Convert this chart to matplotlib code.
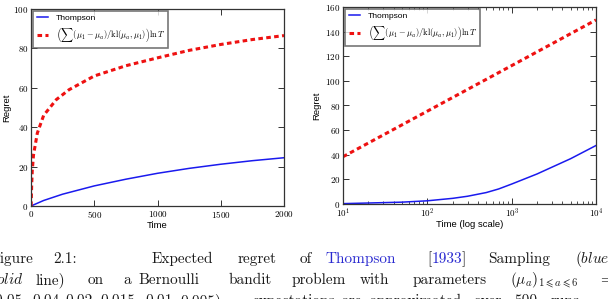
import matplotlib
matplotlib.use("Agg")
import matplotlib.pyplot as plt
from matplotlib.ticker import FuncFormatter, LogLocator, NullFormatter
import numpy as np

plt.rcParams['mathtext.fontset'] = 'cm'
plt.rcParams['font.family'] = ['Liberation Sans', 'DejaVu Sans']

# values
time_lin = [0, 100, 250, 500, 750, 1000, 1250, 1500, 1750, 2000]
thompson_lin = [0, 2.8, 6.0, 10.2, 13.6, 16.6, 19.1, 21.2, 23.0, 24.5]

bound_time_lin = [1, 5, 10, 20, 50, 100, 200, 300, 500, 750, 1000, 1250, 1500, 1750, 2000]
bound_lin = [0, 10, 18, 26, 37, 46, 54, 59, 66, 71.2, 75.2, 79, 82, 84.5, 86.5]

time_log = [10, 20, 50, 100, 200, 300, 500, 700, 1000, 2000, 5000, 10000]
thompson_log = [0.3, 0.8, 1.5, 2.6, 4.6, 6.3, 9.3, 12.2, 16.2, 24.4, 36.8, 47.5]

bound_time_log = [10, 100, 1000, 10000]
bound_log = [38.4, 75.4, 112.4, 149.5]

lin_xticks = [0, 500, 1000, 1500, 2000]
lin_yticks = [0, 20, 40, 60, 80, 100]
log_yticks = [0, 20, 40, 60, 80, 100, 120, 140, 160]

bound_label = r'$\left(\sum(\mu_1-\mu_a)/\mathrm{kl}(\mu_a,\mu_1)\right)\ln T$'

W, H = 608, 299
fig = plt.figure(figsize=(W / 100, H / 100), dpi=100)
ax1 = fig.add_axes([31 / W, 1 - 206 / H, 253 / W, 197 / H])
ax2 = fig.add_axes([343 / W, 1 - 204 / H, 253 / W, 197 / H])

num_fmt = FuncFormatter(lambda v, p: f'${v:g}$')
pow_fmt = FuncFormatter(lambda v, p: f'$10^{{{int(round(np.log10(v)))}}}$')

ax1.plot(time_lin, thompson_lin, color='#1a1aee', lw=1.1, label='Thompson')
ax1.plot(bound_time_lin, bound_lin, color='#ee1111', lw=2.2,
         linestyle=(0, (1.5, 1.1)), label=bound_label)
ax1.set_xlim(0, 2000)
ax1.set_ylim(0, 100)
ax1.set_xticks(lin_xticks)
ax1.set_yticks(lin_yticks)
ax1.xaxis.set_major_formatter(num_fmt)
ax1.yaxis.set_major_formatter(num_fmt)
ax1.set_xlabel('Time', fontsize=6.8)
ax1.set_ylabel('Regret', fontsize=6.8)
ax1.xaxis.set_label_coords(0.5, -0.076)
ax1.yaxis.set_label_coords(-0.079, 0.5)

ax2.plot(time_log, thompson_log, color='#1a1aee', lw=1.1, label='Thompson')
ax2.plot(bound_time_log, bound_log, color='#ee1111', lw=2.2,
         linestyle=(0, (1.5, 1.1)), label=bound_label)
ax2.set_xscale('log')
ax2.set_xlim(10, 10000)
ax2.set_ylim(0, 160)
ax2.set_yticks(log_yticks)
ax2.xaxis.set_major_locator(LogLocator(base=10))
ax2.xaxis.set_minor_locator(LogLocator(base=10, subs=np.arange(2, 10)))
ax2.xaxis.set_major_formatter(pow_fmt)
ax2.xaxis.set_minor_formatter(NullFormatter())
ax2.yaxis.set_major_formatter(num_fmt)
ax2.set_xlabel('Time (log scale)', fontsize=6.8)
ax2.set_ylabel('Regret', fontsize=6.8)
ax2.xaxis.set_label_coords(0.5, -0.081)
ax2.yaxis.set_label_coords(-0.087, 0.5)

for ax in (ax1, ax2):
    for s in ax.spines.values():
        s.set_color('#333333')
        s.set_linewidth(0.9)
    ax.tick_params(which='both', direction='in', top=True, right=True,
                   color='#333333', labelsize=6.5, pad=2)
    ax.tick_params(which='major', length=4, width=0.7)
    ax.tick_params(which='minor', length=2, width=0.6)
    leg = ax.legend(loc='upper left', fontsize=6.1, handlelength=1.35,
                    handletextpad=0.9, borderpad=0.4, labelspacing=0.45,
                    borderaxespad=0.25, fancybox=False)
    leg.get_frame().set_edgecolor('#555555')
    leg.get_frame().set_linewidth(1.2)

# caption below the plots (justified by hand, cut at the picture edges)
caption_font = dict(fontsize=11, family='cmr10', va='baseline')
blue_ref = '#2a2ad0'
renderer = fig.canvas.get_renderer()


def put(x, y, pieces, ha='left'):
    # place consecutive pieces of one word starting (or ending) at pixel x
    if ha == 'right':
        total = 0
        for txt, col in pieces:
            t = fig.text(0, 0, txt, color=col, **caption_font)
            total += t.get_window_extent(renderer).width
            t.remove()
        x = x - total
    for txt, col in pieces:
        t = fig.text(x / W, 1 - y / H, txt, color=col, ha='left', **caption_font)
        x += t.get_window_extent(renderer).width


k = '#1a1a1a'
line1 = [(33, [('Figure', k)], 'right'), (53, [('2.1:', k)], 'left'),
         (152, [('Expected', k)], 'left'), (238, [('regret', k)], 'left'),
         (300, [('of', k)], 'left'), (325, [('Thompson', blue_ref)], 'left'),
         (427, [('[', k), ('1933', blue_ref), (']', k)], 'left'),
         (488, [('Sampling', k)], 'left'), (575, [(r'$(\mathit{blue}$', k)], 'left')]
line2 = [(23, [(r'$\mathit{solid}$', k)], 'right'), (36, [('line)', k)], 'left'),
         (88, [('on', k)], 'left'), (123, [('a', k)], 'left'),
         (138, [('Bernoulli', k)], 'left'), (229, [('bandit', k)], 'left'),
         (292, [('problem', k)], 'left'), (360, [('with', k)], 'left'),
         (413, [('parameters', k)], 'left'),
         (510, [(r'$(\mu_a)_{1\leqslant a\leqslant 6}$', k)], 'left'),
         (600, [('=', k)], 'left')]
line3 = [(27, [('(0.05,', k)], 'right'), (32, [('0.04,', k)], 'left'),
         (65, [('0.02,', k)], 'left'), (100, [('0.015,', k)], 'left'),
         (145, [('0.01,', k)], 'left'), (180, [('0.005);', k)], 'left'),
         (253, [('expectations', k)], 'left'), (341, [('are', k)], 'left'),
         (369, [('approximated', k)], 'left'), (474, [('over', k)], 'left'),
         (514, [('500', k)], 'left'), (551, [('runs', k)], 'left')]

for y, line in ((263, line1), (284, line2), (305, line3)):
    for x, pieces, ha in line:
        put(x, y, pieces, ha)

fig.savefig('out.png', dpi=100)
